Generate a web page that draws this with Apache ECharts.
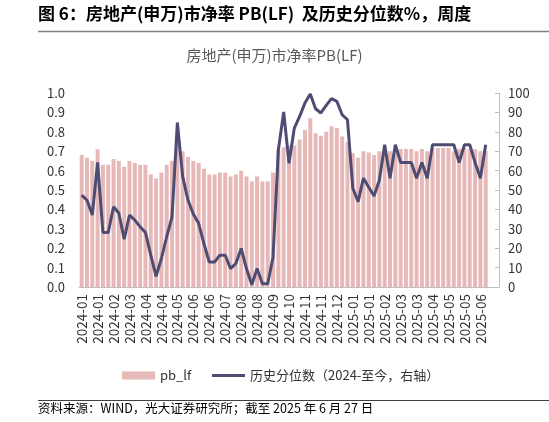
<!DOCTYPE html>
<html>
<head>
<meta charset="utf-8">
<script src="https://cdn.jsdelivr.net/npm/echarts@6/dist/echarts.min.js"></script>
<style>
html,body{margin:0;padding:0;background:#fff;}
#c{width:549px;height:422px;}
</style>
</head>
<body>
<div id="c"></div>
<script>
var categories = [
'2024-01','2024-01','2024-01','2024-01',
'2024-02','2024-02','2024-02','2024-02',
'2024-03','2024-03','2024-03','2024-03',
'2024-04','2024-04','2024-04','2024-04','2024-04',
'2024-05','2024-05','2024-05','2024-05',
'2024-06','2024-06','2024-06','2024-06','2024-06',
'2024-07','2024-07','2024-07','2024-07',
'2024-08','2024-08','2024-08','2024-08','2024-08',
'2024-09','2024-09','2024-09','2024-09',
'2024-10','2024-10','2024-10',
'2024-11','2024-11','2024-11','2024-11','2024-11',
'2024-12','2024-12','2024-12','2024-12',
'2025-01','2025-01','2025-01','2025-01','2025-01',
'2025-02','2025-02','2025-02','2025-02',
'2025-03','2025-03','2025-03','2025-03','2025-03',
'2025-04','2025-04','2025-04','2025-04',
'2025-05','2025-05','2025-05','2025-05','2025-05',
'2025-06','2025-06','2025-06',
'',''
];
var pbValues = [
0.68,0.666,0.65,0.71,0.63,0.63,0.66,0.65,0.62,0.65,
0.64,0.63,0.63,0.58,0.56,0.59,0.63,0.65,0.74,0.70,
0.67,0.65,0.64,0.61,0.58,0.58,0.59,0.59,0.57,0.58,
0.60,0.57,0.545,0.57,0.545,0.545,0.59,0.707,0.72,0.73,
0.73,0.76,0.81,0.87,0.793,0.78,0.80,0.828,0.819,0.776,
0.748,0.69,0.666,0.70,0.693,0.681,0.70,0.70,0.70,0.69,
0.711,0.711,0.711,0.70,0.711,0.70,0.717,0.717,0.717,0.717,
0.70,0.711,0.717,0.711,0.711,0.70,0.70,
null,null
];
var pctValues = [
47.4,44.8,37.1,64.2,28.1,28.1,41.4,38,24.7,37.1,
34.5,31,28.1,16.4,5.5,14.7,25.9,36.2,84.8,56.9,
44.8,37.6,32.8,22.4,12.9,12.9,16.4,16.4,9.5,12.1,
19.9,9.5,1.2,9.5,1.7,1.7,15.5,70.7,90.2,63.8,
81.9,87.9,94.9,99.5,91.9,89.7,93.6,97.1,95.7,88.8,
86.2,50.9,44,56.1,51.4,46.9,55.2,73.3,56.1,73.3,
64.2,64.2,64.2,56.1,64.2,56.1,73.3,73.3,73.3,73.3,
73.3,64.2,73.3,73.3,64.2,56.1,73.3,
null,null
];
var seriesNames = ['pb_lf','历史分位数（2024-至今，右轴）'];
var mainTitle = '图 6：房地产(申万)市净率 PB(LF)  及历史分位数%，周度';
var chartTitle = '房地产(申万)市净率PB(LF)';
var sourceText = '资料来源：WIND，光大证券研究所；截至 2025 年 6 月 27 日';

var FONT = '"Noto Sans CJK SC", "Noto Sans", sans-serif';
var chart = echarts.init(document.getElementById('c'), null, {renderer:'canvas'});
chart.setOption({
  animation:false,
  backgroundColor:'#fff',
  textStyle:{fontFamily:FONT},
  graphic:[
    {type:'text', left:38, top:5, style:{text:mainTitle, font:'bold 17px '+FONT, fill:'#000'}},
    {type:'line', shape:{x1:38,y1:31.5,x2:549,y2:31.5}, style:{stroke:'#808080', lineWidth:1.5}},
    {type:'text', left:'center', top:48, style:{text:chartTitle, font:'15px '+FONT, fill:'#595959'}},
    {type:'line', shape:{x1:38,y1:400.5,x2:549,y2:400.5}, style:{stroke:'#404040', lineWidth:1}},
    {type:'text', left:38, top:402, style:{text:sourceText, font:'12.5px '+FONT, fill:'#000'}}
  ],
  legend:[
    {left:122, top:369, padding:0, itemWidth:33, itemHeight:8,
     textStyle:{fontSize:13, color:'#333', fontFamily:FONT},
     data:[{name:seriesNames[0], icon:'rect'}]},
    {left:212, top:369, padding:0, itemWidth:33, itemHeight:3,
     textStyle:{fontSize:13, color:'#333', fontFamily:FONT},
     data:[{name:seriesNames[1], icon:'rect'}]}
  ],
  grid:{left:79, right:50, top:93, bottom:135, containLabel:false},
  xAxis:{
    type:'category', data:categories, boundaryGap:true,
    axisLine:{lineStyle:{color:'#bfbfbf', width:1}},
    axisTick:{show:false},
    axisLabel:{interval:2, rotate:90, fontSize:13.5, color:'#333', margin:7, fontFamily:FONT}
  },
  yAxis:[
    {type:'value', min:0, max:1, interval:0.1,
     axisLine:{show:false}, axisTick:{show:false}, splitLine:{show:false},
     axisLabel:{fontSize:13, color:'#333', margin:14, fontFamily:FONT, formatter:function(v){return v.toFixed(1);}}},
    {type:'value', min:0, max:100, interval:10, position:'right',
     axisLine:{show:true, lineStyle:{color:'#bfbfbf'}},
     axisTick:{show:true, inside:true, length:4, lineStyle:{color:'#bfbfbf'}},
     splitLine:{show:false},
     axisLabel:{fontSize:13, color:'#333', margin:9, fontFamily:FONT}}
  ],
  series:[
    {name:seriesNames[0], type:'bar', data:pbValues, barCategoryGap:'25%',
     itemStyle:{color:'#e6b9b8'}},
    {name:seriesNames[1], type:'line', yAxisIndex:1, data:pctValues, symbol:'none',
     lineStyle:{color:'#4e4c72', width:3}, itemStyle:{color:'#4e4c72'}, z:5}
  ]
});
</script>
</body>
</html>
